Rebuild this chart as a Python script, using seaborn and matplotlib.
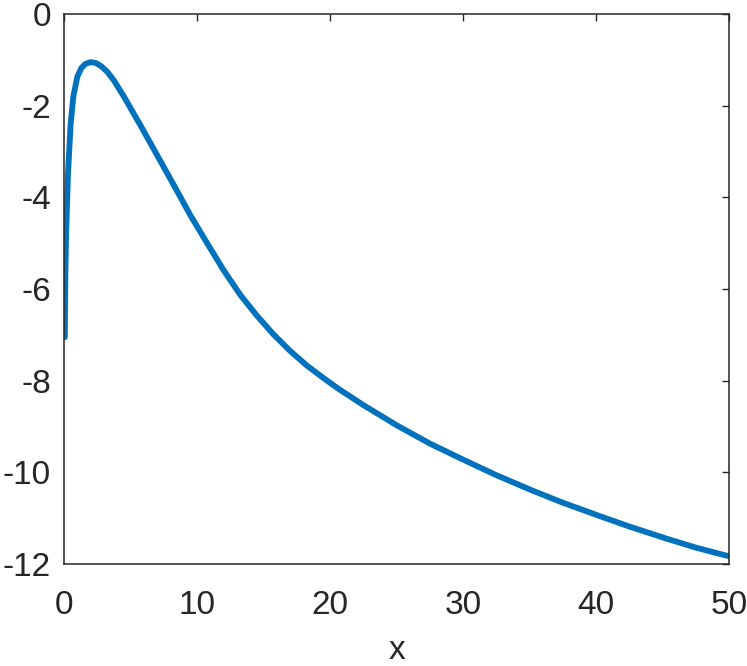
import pandas as pd
import matplotlib
matplotlib.use("Agg")
import matplotlib.pyplot as plt
import seaborn as sns

# values
x_vals = [0.06, 0.1, 0.15, 0.2, 0.3, 0.5, 0.7, 1.0, 1.3, 1.6, 2.0, 2.4, 2.8,
          3.25, 3.75, 4.5, 5.75, 7.0, 8.25, 9.5, 10.76, 12.0, 13.26, 14.5,
          15.75, 17.0, 18.26, 19.5, 20.6, 22.5, 25.0, 27.5, 30.0, 32.5, 35.25,
          37.5, 40.25, 42.5, 45.25, 47.5, 50.0]
y_vals = [-7.05, -5.7, -4.9, -4.4, -3.48, -2.39, -1.80, -1.37, -1.18, -1.09,
          -1.05, -1.07, -1.14, -1.26, -1.45, -1.80, -2.43, -3.08, -3.73, -4.39,
          -5.0, -5.59, -6.13, -6.58, -6.99, -7.35, -7.67, -7.94, -8.17, -8.53,
          -8.97, -9.37, -9.72, -10.06, -10.40, -10.66, -10.95, -11.18, -11.44,
          -11.64, -11.83]
x_ticks = [0, 10, 20, 30, 40, 50]
y_ticks = [0, -2, -4, -6, -8, -10, -12]

df = pd.DataFrame({"x": x_vals, "y": y_vals})

sns.set_style("white")
plt.rcParams['font.family'] = ['Liberation Sans', 'DejaVu Sans']
plt.rcParams['axes.unicode_minus'] = False

fig = plt.figure(figsize=(7.47, 6.66), dpi=100)
ax = fig.add_axes([0.0857, 0.153, 0.8903, 0.826])

sns.lineplot(data=df, x="x", y="y", ax=ax, color="#0072BD", linewidth=4.2)

ax.set_xlim(0, 50)
ax.set_ylim(-12, 0)
ax.set_xticks(x_ticks)
ax.set_yticks(y_ticks)
ax.set_xlabel("x", fontsize=24, color="#262626", labelpad=10)
ax.set_ylabel("")

ax.tick_params(direction="in", length=5, width=1, colors="#262626",
               labelsize=24, top=True, right=True)
ax.tick_params(axis="x", pad=19)
ax.tick_params(axis="y", pad=9.5)
for s in ax.spines.values():
    s.set_visible(True)
    s.set_color("#262626")
    s.set_linewidth(1.1)

fig.savefig("out.png", dpi=100)
